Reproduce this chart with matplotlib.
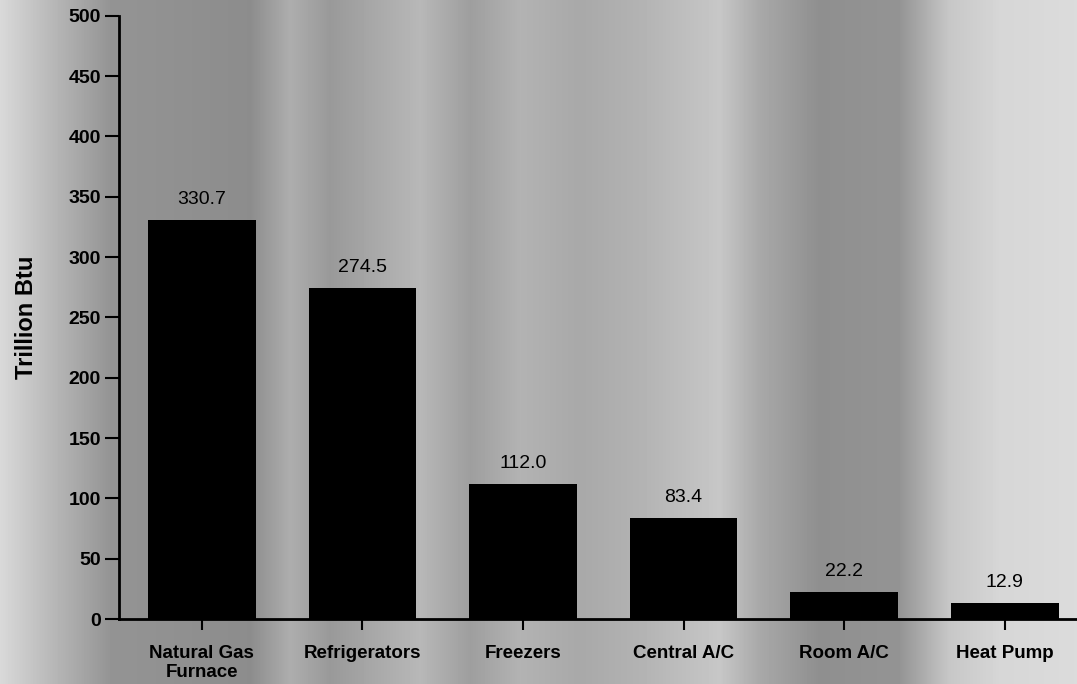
import numpy as np
import matplotlib.pyplot as plt

categories = ['Natural Gas\nFurnace', 'Refrigerators', 'Freezers',
              'Central A/C', 'Room A/C', 'Heat Pump']
values = [330.7, 274.5, 112.0, 83.4, 22.2, 12.9]
yticks = [0, 50, 100, 150, 200, 250, 300, 350, 400, 450, 500]

plt.rcParams['font.family'] = ['Liberation Sans', 'DejaVu Sans']

fig = plt.figure(figsize=(10.77, 6.84), dpi=100)

# scanned-paper look: grey vertical bands behind everything
bg = fig.add_axes([0, 0, 1, 1], zorder=0)
xs = np.linspace(0, 1077, 1077)
px = [0, 40, 110, 250, 290, 330, 420, 470, 520, 580, 640, 720, 760, 820, 900, 950, 1000, 1077]
shade = [0.85, 0.75, 0.58, 0.55, 0.68, 0.60, 0.72, 0.62, 0.70, 0.66, 0.70, 0.78, 0.66, 0.56, 0.58, 0.78, 0.84, 0.86]
band = np.interp(xs, px, shade)
bg.imshow(np.tile(band, (2, 1)), cmap='gray', vmin=0, vmax=1, aspect='auto',
          extent=[0, 1, 0, 1])
bg.set_axis_off()

ax = fig.add_axes([0.1105, 0.095, 0.8895, 0.882], zorder=1)
ax.patch.set_alpha(0)

x = np.arange(len(categories))
ax.bar(x, values, width=0.67, color='black')
for xi, v in zip(x, values):
    ax.text(xi, v + 10, f'{v:.1f}', ha='center', va='bottom', fontsize=14)

ax.set_xlim(-0.516, 5.45)
ax.set_ylim(0, 500)
ax.set_yticks(yticks)
ax.set_xticks(x)
ax.set_xticklabels(categories, fontsize=13.5, fontweight='bold', linespacing=1.1)
ax.tick_params(axis='y', length=10, width=1.5, labelsize=14, pad=3)
ax.tick_params(axis='x', length=8, width=1.5, pad=11)
for lbl in ax.get_yticklabels():
    lbl.set_fontweight('bold')

ax.spines['top'].set_visible(False)
ax.spines['right'].set_visible(False)
ax.spines['left'].set_linewidth(2)
ax.spines['bottom'].set_linewidth(2)

ax.set_ylabel('Trillion Btu', fontsize=17, fontweight='bold', labelpad=22)

fig.savefig('out.png', dpi=100)
